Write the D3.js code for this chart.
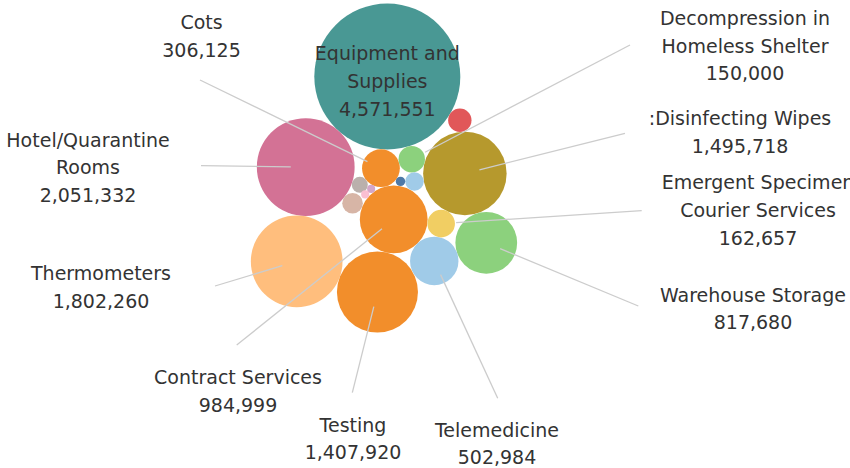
<!DOCTYPE html>
<html>
<head>
<meta charset="utf-8">
<script src="https://d3js.org/d3.v7.min.js"></script>
<style>
  body { margin: 0; background: #fff; }
  svg text { font-family: "DejaVu Sans", sans-serif; font-size: 19px; fill: #333; }
</style>
</head>
<body>
<svg width="850" height="468"></svg>
<script>
// categories and amounts (the "Other n" bubbles carry no label in the picture)
var categories = [
   'Equipment and Supplies', 'Hotel/Quarantine Rooms', 'Thermometers', ':Disinfecting Wipes',
   'Testing', 'Contract Services', 'Warehouse Storage', 'Telemedicine', 'Cots',
   'Emergent Specimen Courier Services', 'Decompression in Homeless Shelter',
   'Other 1', 'Other 2', 'Other 3', 'Other 4', 'Other 5', 'Other 6', 'Other 7'
];
var amounts = [
   4571551, 2051332, 1802260, 1495718,
   1407920, 984999, 817680, 502984, 306125,
   162657, 150000,
   117000, 91000, 74000, 55000, 19000, 14000, 14000
];
var labelled = [
   true, true, true, true, true, true, true, true, true, true, true,
   false, false, false, false, false, false, false
];

// colours per category (tableau 20)
var colorOf = {
   'Equipment and Supplies': '#499894',
   'Hotel/Quarantine Rooms': '#D37295',
   'Thermometers': '#FFBE7D',
   ':Disinfecting Wipes': '#B6992D',
   'Testing': '#F28E2B',
   'Contract Services': '#F28E2B',
   'Warehouse Storage': '#8CD17D',
   'Telemedicine': '#A0CBE8',
   'Cots': '#F28E2B',
   'Emergent Specimen Courier Services': '#F1CE63',
   'Decompression in Homeless Shelter': '#8CD17D',
   'Other 1': '#E15759',
   'Other 2': '#D7B5A6',
   'Other 3': '#A0CBE8',
   'Other 4': '#BAB0AC',
   'Other 5': '#4E79A7',
   'Other 6': '#D4A6C8',
   'Other 7': '#FABFD2'
};

// packing: each bubble is set tangent to two bubbles already placed
var packStart = ['Contract Services', 'Cots'];
var packSteps = [
   ['Other 5', 'Cots', 'Contract Services'],
   ['Other 3', 'Other 5', 'Contract Services'],
   ['Decompression in Homeless Shelter', 'Cots', 'Other 3'],
   ['Equipment and Supplies', 'Cots', 'Decompression in Homeless Shelter'],
   [':Disinfecting Wipes', 'Decompression in Homeless Shelter', 'Other 3'],
   ['Other 1', 'Equipment and Supplies', ':Disinfecting Wipes'],
   ['Emergent Specimen Courier Services', ':Disinfecting Wipes', 'Contract Services'],
   ['Telemedicine', 'Emergent Specimen Courier Services', 'Contract Services'],
   ['Warehouse Storage', ':Disinfecting Wipes', 'Telemedicine'],
   ['Testing', 'Telemedicine', 'Contract Services'],
   ['Other 6', 'Contract Services', 'Cots'],
   ['Other 4', 'Other 6', 'Cots'],
   ['Hotel/Quarantine Rooms', 'Other 4', 'Equipment and Supplies'],
   ['Other 7', 'Contract Services', 'Other 6'],
   ['Other 2', 'Contract Services', 'Hotel/Quarantine Rooms'],
   ['Thermometers', 'Testing', 'Hotel/Quarantine Rooms']
];
var startAngle = -104;          // direction of the second bubble from the first
var packCenter = [384, 168];    // centre of the cluster's bounding box

// label placement: first baseline (x,y) and outer end of the leader line
var labelLayout = {
   'Equipment and Supplies': { inside: true },
   'Cots': { x: 201.5, y: 29.3, lx: 200, ly: 80 },
   'Hotel/Quarantine Rooms': { x: 88, y: 146.7, lx: 201, ly: 165.7 },
   'Thermometers': { x: 101, y: 280, lx: 215, ly: 286 },
   'Contract Services': { x: 238, y: 384.3, lx: 236.7, ly: 345 },
   'Testing': { x: 353, y: 431.7, lx: 352.3, ly: 392.7 },
   'Telemedicine': { x: 497, y: 436.7, lx: 497.7, ly: 398.3 },
   'Warehouse Storage': { x: 753, y: 301.7, lx: 638.3, ly: 306 },
   'Emergent Specimen Courier Services': { x: 758, y: 189.3, lx: 641.7, ly: 210.7 },
   ':Disinfecting Wipes': { x: 740, y: 125, lx: 625, ly: 133.3 },
   'Decompression in Homeless Shelter': { x: 745, y: 25, lx: 630, ly: 45 }
};
var lineHeight = 27.7;
var wrapWidth = 200;

var svg = d3.select('svg');
var fmt = d3.format(',');

var r = d3.scaleSqrt()
   .domain([0, d3.max(amounts)])
   .range([0, 73]);

var nodes = {};
categories.forEach(function(c, i) {
   nodes[c] = { name: c, value: amounts[i], r: r(amounts[i]), labelled: labelled[i] };
});

function place(a, b, c) {
   var dx = b.x - a.x, dy = b.y - a.y, d = Math.sqrt(dx * dx + dy * dy);
   var ra = a.r + c.r, rb = b.r + c.r;
   var x = (d * d + ra * ra - rb * rb) / (2 * d);
   var h = Math.sqrt(Math.max(0, ra * ra - x * x));
   c.x = a.x + (x * dx + h * dy) / d;
   c.y = a.y + (x * dy - h * dx) / d;
}

var first = nodes[packStart[0]], second = nodes[packStart[1]];
var ang = startAngle * Math.PI / 180;
first.x = 0; first.y = 0;
second.x = (first.r + second.r) * Math.cos(ang);
second.y = (first.r + second.r) * Math.sin(ang);
packSteps.forEach(function(s) {
   place(nodes[s[1]], nodes[s[2]], nodes[s[0]]);
});

var list = categories.map(function(c) { return nodes[c]; });
var x0 = d3.min(list, function(d) { return d.x - d.r; });
var x1 = d3.max(list, function(d) { return d.x + d.r; });
var y0 = d3.min(list, function(d) { return d.y - d.r; });
var y1 = d3.max(list, function(d) { return d.y + d.r; });
var tx = packCenter[0] - (x0 + x1) / 2, ty = packCenter[1] - (y0 + y1) / 2;
list.forEach(function(d) { d.x += tx; d.y += ty; });

// bubbles
svg.append('g').classed('bubbles', true)
   .selectAll('circle')
   .data(list)
   .enter()
   .append('circle')
   .attr('cx', function(d) { return d.x; })
   .attr('cy', function(d) { return d.y; })
   .attr('r', function(d) { return d.r; })
   .attr('fill', function(d) { return colorOf[d.name]; });

// leader lines
var outside = list.filter(function(d) { return d.labelled && !labelLayout[d.name].inside; });
svg.append('g').classed('leaders', true)
   .selectAll('line')
   .data(outside)
   .enter()
   .append('line')
   .attr('x1', function(d) { return labelLayout[d.name].lx; })
   .attr('y1', function(d) { return labelLayout[d.name].ly; })
   .attr('x2', function(d) {
      var L = labelLayout[d.name], dx = L.lx - d.x, dy = L.ly - d.y;
      return d.x + 15 * dx / Math.sqrt(dx * dx + dy * dy);
   })
   .attr('y2', function(d) {
      var L = labelLayout[d.name], dx = L.lx - d.x, dy = L.ly - d.y;
      return d.y + 15 * dy / Math.sqrt(dx * dx + dy * dy);
   })
   .attr('stroke', '#cccccc')
   .attr('stroke-width', 1.3);

// wrap a name greedily into lines no wider than w
function wrap(name, w, g) {
   var words = name.split(' '), lines = [], cur = '';
   var probe = g.append('text');
   words.forEach(function(word) {
      var test = cur ? cur + ' ' + word : word;
      probe.text(test);
      if (cur && probe.node().getComputedTextLength() > w) {
         lines.push(cur); cur = word;
      } else {
         cur = test;
      }
   });
   lines.push(cur);
   probe.remove();
   return lines;
}

// labels
var labels = svg.append('g').classed('labels', true);
list.filter(function(d) { return d.labelled; }).forEach(function(d) {
   var L = labelLayout[d.name];
   var lines = wrap(d.name, L.inside ? d.r * 2 : wrapWidth, labels);
   lines.push(fmt(d.value));
   var x = L.inside ? d.x : L.x;
   var y = L.inside ? d.y - lineHeight * (lines.length - 1) / 2 + 11.4 : L.y;
   labels.append('text')
      .attr('text-anchor', 'middle')
      .selectAll('tspan')
      .data(lines)
      .enter()
      .append('tspan')
      .attr('x', x)
      .attr('y', function(s, i) { return y + i * lineHeight; })
      .text(function(s) { return s; });
});
</script>
</body>
</html>
